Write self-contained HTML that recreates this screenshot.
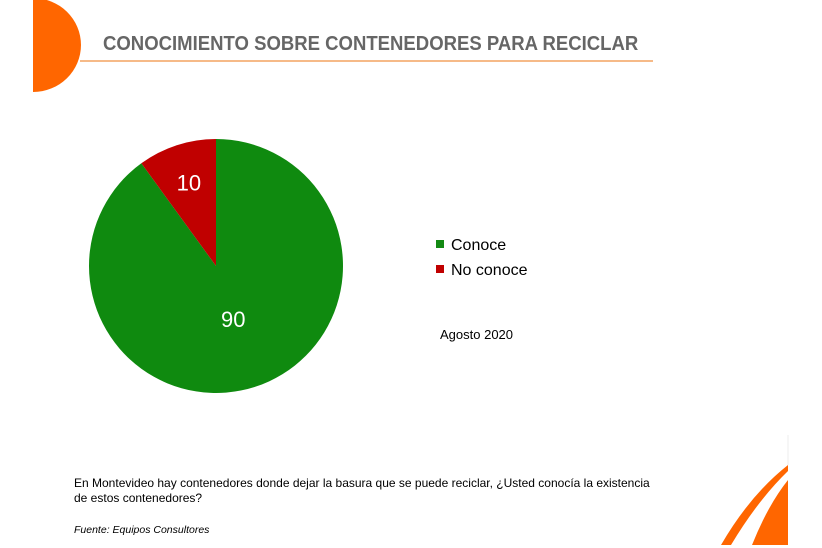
<!DOCTYPE html>
<html><head><meta charset="utf-8"><style>
body{margin:0;width:822px;height:548px;background:#fff;font-family:"Liberation Sans","DejaVu Sans",sans-serif;position:relative;overflow:hidden}
.t{position:absolute}
</style></head><body>
<svg class="t" style="left:0;top:0" width="822" height="548">
<path d="M33,-2 A48,47 0 0 1 33,92 Z" fill="#ff6600"/>
<line x1="80" y1="61" x2="653" y2="61" stroke="#f4a460" stroke-width="1.5"/>
<path d="M721,545 Q750,495 788,465 L788,471 Q758,500 731,545 Z" fill="#ff6600"/>
<path d="M752,545 Q768,505 788,480 L788,545 Z" fill="#ff6600"/>
<line x1="788" y1="435" x2="788" y2="465" stroke="#eee" stroke-width="1"/>
<g id="pie"></g>
<rect x="436" y="240" width="8" height="8" fill="#138a13"/>
<text x="451" y="250" font-size="16" fill="#000">Conoce</text>
<rect x="436" y="265" width="8" height="8" fill="#c00000"/>
<text x="451" y="275" font-size="16" fill="#000">No conoce</text>
<text x="440" y="339" font-size="13" fill="#000">Agosto 2020</text>
</svg>
<div class="t" style="left:103px;top:33px;font-size:20px;font-weight:bold;color:#666;transform:scaleX(0.927);transform-origin:0 0;white-space:nowrap">CONOCIMIENTO SOBRE CONTENEDORES PARA RECICLAR</div>
<div class="t" style="left:74px;top:476px;width:700px;font-size:12px;line-height:15px;color:#000;white-space:nowrap">En Montevideo hay contenedores donde dejar la basura que se puede reciclar, ¿Usted conocía la existencia<br>de estos contenedores?</div>
<div class="t" style="left:74px;top:524px;font-size:10.5px;font-style:italic;color:#000">Fuente: Equipos Consultores</div>
<script>
const categories=["Conoce","No conoce"];
const values=[90,10];
const colors=["#0f8a0f","#c00000"];
const cx=216,cy=266,r=127;
const g=document.getElementById('pie');
const total=values.reduce((a,b)=>a+b,0);
let start=0;
const ns="http://www.w3.org/2000/svg";
for(let i=0;i<values.length;i++){
  const frac=values[i]/total,a0=start*2*Math.PI,a1=(start+frac)*2*Math.PI;
  const p=a=>[cx+r*Math.sin(a),cy-r*Math.cos(a)];
  const [x0,y0]=p(a0),[x1,y1]=p(a1);
  const path=document.createElementNS(ns,'path');
  path.setAttribute('d',`M${cx},${cy} L${x0},${y0} A${r},${r} 0 ${frac>0.5?1:0} 1 ${x1},${y1} Z`);
  path.setAttribute('fill',colors[i]);
  
  
  g.appendChild(path);
  const am=(a0+a1)/2,lr=r*(frac>0.5?0.44:0.69);
  const t=document.createElementNS(ns,'text');
  t.setAttribute('x',cx+lr*Math.sin(am));
  t.setAttribute('y',cy-lr*Math.cos(am)+8);
  t.setAttribute('text-anchor','middle');
  t.setAttribute('font-size','22');
  t.setAttribute('fill','#fff');
  t.textContent=values[i];
  
  
  g.appendChild(t);
  start+=frac;
}
</script>
</body></html>
